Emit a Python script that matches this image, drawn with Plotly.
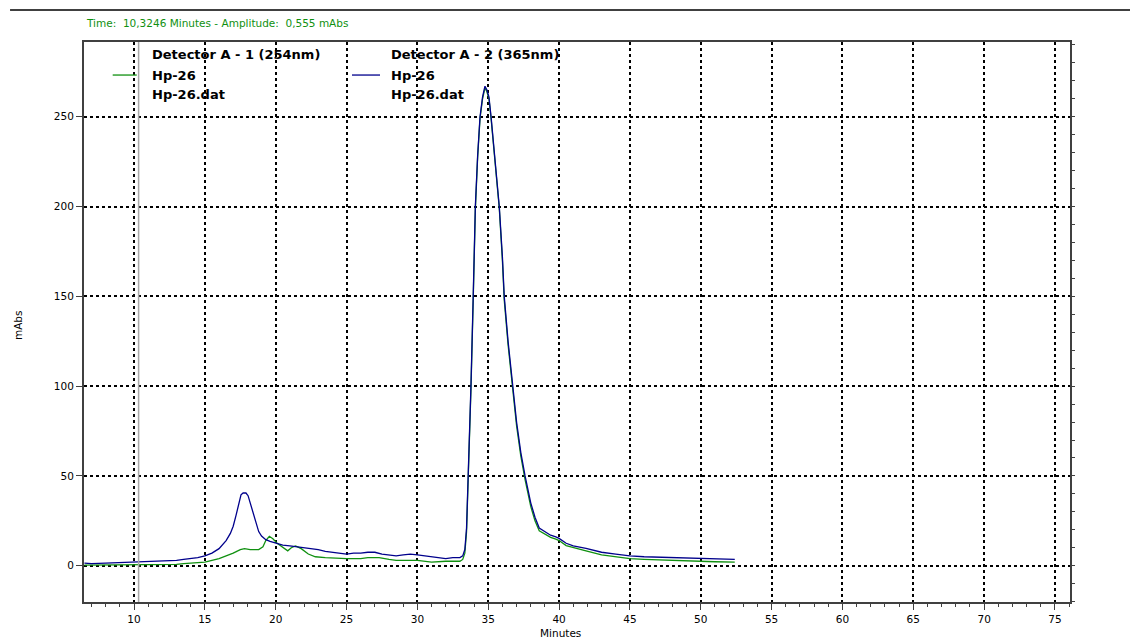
import plotly.graph_objects as go

# ---- data ----
blue_x = [6.5, 7, 8, 9, 10, 11, 12, 13, 13.5, 14, 14.5, 15, 15.5, 16, 16.5, 16.8, 17.0, 17.2, 17.4, 17.55,
          17.7, 17.9, 18.05, 18.2, 18.4, 18.6, 18.8, 19.0, 19.3, 19.6, 20.0, 20.5, 21.0, 21.5, 22.0, 22.5,
          23.0, 23.5, 24.0, 24.5, 25.0, 25.5, 26.0, 26.5, 27.0, 27.5, 28.0, 28.5, 29.0, 29.5, 30.0, 30.5,
          31.0, 31.5, 32.0, 32.5, 33.0, 33.2, 33.35, 33.47, 33.6, 33.78, 33.94, 34.09, 34.25, 34.42, 34.6,
          34.77, 34.9, 35.05, 35.2, 35.4, 35.6, 35.78, 36.0, 36.13, 36.4, 36.73, 37.0, 37.3, 37.6, 38.0,
          38.3, 38.6, 39.0, 39.4, 39.77, 40.0, 40.5, 41.0, 41.9, 42.5, 43, 44, 45, 46, 47, 48, 49, 50, 51,
          52, 52.4]
blue_y = [1.5, 1.2, 1.5, 1.8, 2.0, 2.2, 2.5, 3.0, 3.5, 4.0, 4.5, 5.5, 7, 9.5, 14, 18, 22, 28, 35, 39.5,
          40.5, 40.5, 39, 35, 29, 23, 19, 16.5, 14.5, 13.5, 12.5, 11.5, 11, 10.5, 10, 9.5,
          9, 8, 7.5, 7, 6.5, 7, 7, 7.5, 7.5, 6.5, 6, 5.5, 6, 6.5, 6, 5.5,
          5, 4.5, 4, 4.5, 4.5, 5.5, 9, 21, 50, 100, 150, 200, 228, 250, 261,
          267, 265, 261, 250, 232, 214, 200, 172, 150, 125, 100, 80, 63, 50, 35,
          27, 21, 19, 17, 16, 15.2, 12.5, 11, 9.7, 8.5, 7.5, 6.5, 5.5, 5, 4.8, 4.5, 4.2, 4.0, 3.8,
          3.8, 3.5]

green_x = [6.5, 8, 10, 12, 13, 13.5, 14, 15, 15.5, 16, 16.5, 17, 17.5, 17.8, 18.2, 18.8, 19.1, 19.3,
           19.55, 19.8, 20.1, 20.5, 20.85, 21.1, 21.4, 21.8, 22.3, 22.8, 23.5, 25, 26, 26.5, 27.3, 28,
           28.5, 30, 31, 32, 33, 33.2, 33.35, 33.47, 33.6, 33.78, 33.94, 34.09, 34.25, 34.42, 34.6, 34.77,
           34.9, 35.05, 35.2, 35.4, 35.6, 35.78, 36.0, 36.13, 36.4, 36.73, 37.0, 37.3, 37.6, 38.0, 38.3,
           38.6, 39.0, 39.4, 39.77, 40.0, 40.5, 41.0, 41.9, 43, 44, 45, 46, 47, 48, 49, 50, 51, 52.4]
green_y = [0.3, 0.3, 0.5, 0.5, 0.7, 1.2, 1.5, 2, 3, 4, 5.5, 7, 9, 9.5, 9, 9, 10.5, 14,
           16.4, 15, 12.5, 10, 8.3, 10, 11, 9.5, 6.5, 5, 4.5, 4, 4, 4.5, 4.5, 3.5,
           3, 3, 2, 2.5, 2.5, 3.5, 7, 19, 48, 98, 148, 198, 227, 249, 260, 266,
           264, 260, 249, 231, 213, 199, 170, 148, 123, 98, 78, 61, 48, 33, 25,
           19.5, 17.5, 15.8, 14.8, 14, 11.2, 10, 8.2, 6, 5, 3.9, 3.5, 3.2, 3, 2.5, 2.2, 2.2, 2]

cursor_time = 10.3246
x_ticks = [10, 15, 20, 25, 30, 35, 40, 45, 50, 55, 60, 65, 70, 75]
y_ticks = [0, 50, 100, 150, 200, 250]
x_range = [6.47, 76.06]
y_range = [-20.2, 291.6]

GREEN = "#109010"
BLUE = "#00008c"
FONT = "DejaVu Sans, Liberation Sans, sans-serif"

fig = go.Figure()
fig.add_trace(go.Scatter(x=green_x, y=green_y, mode="lines", line=dict(color=GREEN, width=1.3),
                         showlegend=False, hoverinfo="skip"))
fig.add_trace(go.Scatter(x=blue_x, y=blue_y, mode="lines", line=dict(color=BLUE, width=1.3),
                         showlegend=False, hoverinfo="skip"))
# invisible trace for right-hand tick axis
fig.add_trace(go.Scatter(x=[x_range[0]], y=[0], yaxis="y2", mode="markers",
                         marker=dict(opacity=0), showlegend=False, hoverinfo="skip"))

fig.update_layout(
    width=1130, height=642,
    margin=dict(l=84, r=60, t=42, b=40),
    paper_bgcolor="white", plot_bgcolor="white",
    font=dict(family=FONT, size=10.5, color="black"),
    xaxis=dict(range=x_range, tickvals=x_ticks, ticktext=[str(v) for v in x_ticks],
               showline=True, mirror=True, linecolor="#404040", linewidth=2,
               ticks="outside", ticklen=6, tickcolor="#404040", tickwidth=1,
               minor=dict(dtick=1, tick0=0, ticks="outside", ticklen=3, tickcolor="#404040", showgrid=False),
               showgrid=True, gridcolor="black", gridwidth=1.5, griddash="dot",
               zeroline=False, tickfont=dict(size=10.5)),
    yaxis=dict(range=y_range, tickvals=y_ticks, ticktext=[str(v) for v in y_ticks],
               showline=True, mirror=True, linecolor="#404040", linewidth=2,
               ticks="outside", ticklen=6, tickcolor="#404040", tickwidth=1,
               showgrid=True, gridcolor="black", gridwidth=1.5, griddash="dot",
               zeroline=False, tickfont=dict(size=10.5)),
    yaxis2=dict(range=y_range, overlaying="y", side="right", showticklabels=False,
                tickmode="linear", tick0=0, dtick=10, ticks="outside", ticklen=4,
                tickcolor="#404040", showgrid=False, zeroline=False, showline=False),
)

# cursor line
fig.add_shape(type="line", xref="x", yref="paper", x0=cursor_time, x1=cursor_time, y0=0, y1=1,
              line=dict(color="#a8a8a8", width=1.5), layer="above")
# top rule
fig.add_shape(type="line", xref="paper", yref="paper", x0=-0.075, x1=1.07, y0=1.0571, y1=1.0571,
              line=dict(color="black", width=1.5))

fig.add_annotation(text="Time:  10,3246 Minutes - Amplitude:  0,555 mAbs", xref="paper", yref="paper",
                   x=0.0, y=1.0339, xanchor="left", yanchor="middle", showarrow=False,
                   font=dict(size=10.5, color=GREEN))

legend_cols = [
    dict(x=0.0669, lx0=0.0291, lx1=0.0535, color=GREEN, title="Detector A - 1 (254nm)"),
    dict(x=0.3093, lx0=0.2718, lx1=0.3002, color=BLUE, title="Detector A - 2 (365nm)"),
]
for col in legend_cols:
    for txt, yy in [(col["title"], 0.9768), ("Hp-26", 0.9410), ("Hp-26.dat", 0.9070)]:
        fig.add_annotation(text="<b>" + txt + "</b>", xref="paper", yref="paper", x=col["x"], y=yy,
                           xanchor="left", yanchor="middle", showarrow=False,
                           font=dict(size=13, color="black"))
    fig.add_shape(type="line", xref="paper", yref="paper", x0=col["lx0"], x1=col["lx1"],
                  y0=0.9410, y1=0.9410, line=dict(color=col["color"], width=1.3))

fig.add_annotation(text="mAbs", xref="paper", yref="paper", x=-0.0669, y=0.4946, textangle=-90,
                   xanchor="center", yanchor="middle", showarrow=False, font=dict(size=10.5))
fig.add_annotation(text="Minutes", xref="paper", yref="paper", x=0.4828, y=-0.0700,
                   xanchor="center", yanchor="bottom", showarrow=False, font=dict(size=10.5))

fig.write_html("out.html")
